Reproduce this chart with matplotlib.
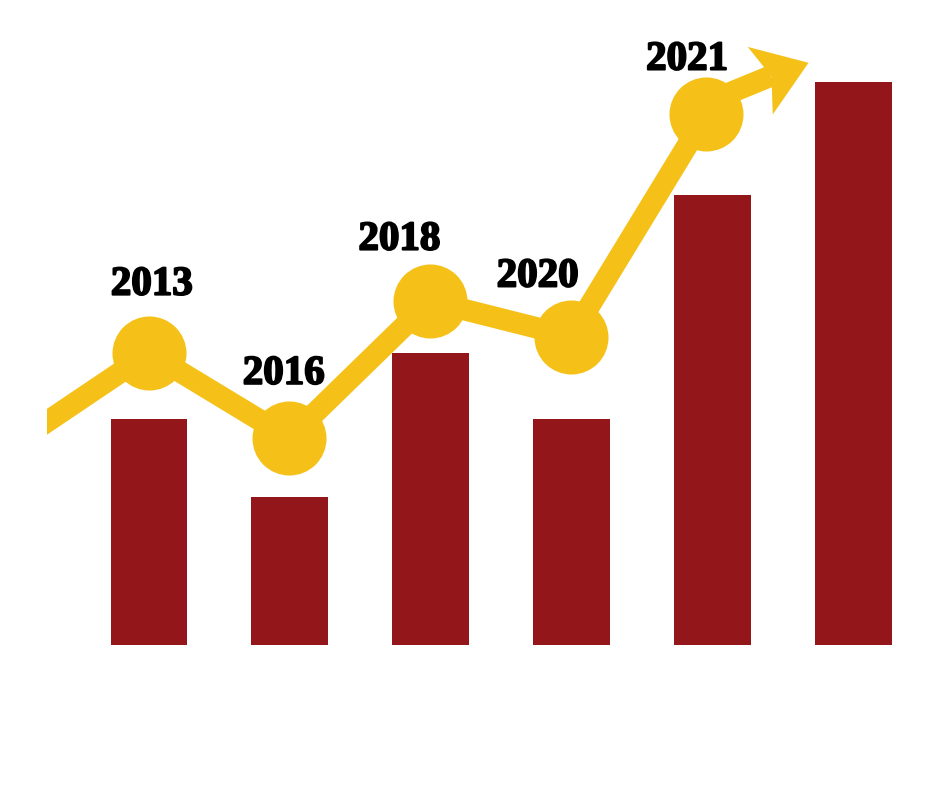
import numpy as np
import matplotlib
matplotlib.use("Agg")
import matplotlib.pyplot as plt
import matplotlib.patheffects as pe
from matplotlib.path import Path
from matplotlib.markers import MarkerStyle
from matplotlib.transforms import Affine2D

# ---- data ----
bar_values = [2.26, 1.48, 2.92, 2.26, 4.50, 5.63]
bar_positions = [0, 1, 2, 3, 4, 5]

trend_x = [-1.0, 0.0, 0.995, 1.993, 2.993, 3.955]
trend_y = [1.97, 2.92, 2.07, 3.44, 3.085, 5.31]

arrow_x = [3.955, 4.413]
arrow_y = [5.425, 5.69]

milestone_labels = ["2013", "2016", "2018", "2020", "2021"]

# ---- styles / layout ----
RED = "#93161A"
YELLOW = "#F5C118"
label_offsets_pt = [(2, 42), (-4, 39), (-22, 37), (-24, 36), (-14, 32)]

fig = plt.figure(figsize=(9.4, 7.88), dpi=100)
ax = fig.add_axes([47 / 940, 0, 1 - 47 / 940, 1])
ax.set_axis_off()
ax.set_xlim(-0.7236, 5.6115)
ax.set_ylim(-1.43, 6.45)

ax.bar(bar_positions, bar_values, width=0.546, color=RED, zorder=1)

ax.plot(trend_x, trend_y, color=YELLOW, lw=15.5, solid_capstyle="butt",
        solid_joinstyle="round", zorder=2)
ax.plot(arrow_x, arrow_y, color=YELLOW, lw=15.5, solid_capstyle="butt", zorder=2)

mx = trend_x[1:]
my = trend_y[1:]
ax.plot(mx, my, "o", ms=53.3, color=YELLOW, mew=0, zorder=3)

# arrow head at end of arrow shaft
p0 = ax.transData.transform((arrow_x[0], arrow_y[0]))
p1 = ax.transData.transform((arrow_x[1], arrow_y[1]))
ang = np.degrees(np.arctan2(p1[1] - p0[1], p1[0] - p0[0]))
head = Path([(39.5, 0), (-12, 36), (0, 0), (-12, -36), (39.5, 0)],
            [Path.MOVETO, Path.LINETO, Path.LINETO, Path.LINETO, Path.CLOSEPOLY])
mk = MarkerStyle(head, transform=Affine2D().rotate_deg(ang - 2))
ax.plot([arrow_x[-1]], [arrow_y[-1]], marker=mk, ms=56.9, color=YELLOW,
        mew=0, ls="none", zorder=3)

for lab, x, y, off in zip(milestone_labels, mx, my, label_offsets_pt):
    ax.annotate(lab, (x, y), xytext=off, textcoords="offset points",
                ha="center", va="baseline", fontsize=29.5, fontweight="bold",
                family=["Liberation Serif", "DejaVu Serif"], color="black",
                zorder=4,
                path_effects=[pe.withStroke(linewidth=1.4, foreground="black")])

fig.savefig("out.png", dpi=100, facecolor="white")
